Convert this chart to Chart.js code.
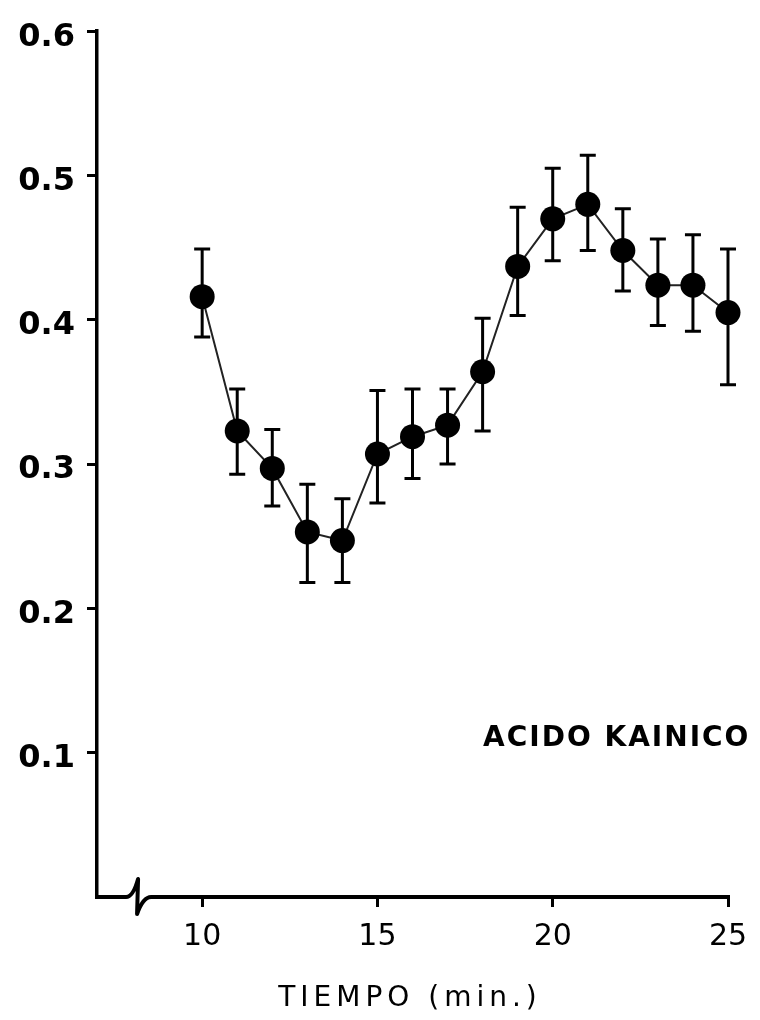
<!DOCTYPE html>
<html>
<head>
<meta charset="utf-8">
<script src="https://cdn.jsdelivr.net/npm/chart.js@4/dist/chart.umd.min.js"></script>
<style>
  body { margin: 0; background: #fff; }
  #wrap { width: 760px; height: 1020px; }
</style>
</head>
<body>
<div id="wrap"><canvas id="kainico"></canvas></div>
<script>
// data
const tiempo = [10, 11, 12, 13, 14, 15, 16, 17, 18, 19, 20, 21, 22, 23, 24, 25];
const media = [0.416, 0.323, 0.297, 0.253, 0.247, 0.307, 0.319, 0.327, 0.364, 0.437, 0.470, 0.480, 0.448, 0.424, 0.424, 0.405];
const errSup = [0.449, 0.352, 0.324, 0.286, 0.276, 0.351, 0.352, 0.352, 0.401, 0.478, 0.505, 0.514, 0.477, 0.456, 0.459, 0.449];
const errInf = [0.388, 0.293, 0.271, 0.218, 0.218, 0.273, 0.290, 0.300, 0.323, 0.403, 0.441, 0.448, 0.420, 0.396, 0.392, 0.355];

const xTicks = [10, 15, 20, 25];
const yTicks = [0.1, 0.2, 0.3, 0.4, 0.5, 0.6];
const xBreak = 8.2;

const etiqueta = 'ACIDO KAINICO';
const tituloX = 'TIEMPO (min.)';

// error bars, broken x axis and the text labels
const extras = {
    id: 'extras',
    beforeDatasetsDraw(chart) {
        const { ctx, scales: { x, y } } = chart;
        ctx.save();
        ctx.strokeStyle = '#000';
        ctx.lineWidth = 3;
        tiempo.forEach((t, i) => {
            const px = x.getPixelForValue(t);
            const top = y.getPixelForValue(errSup[i]);
            const bot = y.getPixelForValue(errInf[i]);
            ctx.beginPath();
            ctx.moveTo(px, top); ctx.lineTo(px, bot);
            ctx.moveTo(px - 8, top); ctx.lineTo(px + 8, top);
            ctx.moveTo(px - 8, bot); ctx.lineTo(px + 8, bot);
            ctx.stroke();
        });
        ctx.restore();
    },
    afterDraw(chart) {
        const { ctx, chartArea, scales: { x } } = chart;
        const y0 = chartArea.bottom;
        const bx = x.getPixelForValue(xBreak);
        ctx.save();
        ctx.strokeStyle = '#000';
        ctx.lineWidth = 4;
        ctx.lineJoin = 'round';
        ctx.beginPath();
        ctx.moveTo(chartArea.left - 2, y0);
        ctx.lineTo(bx - 13, y0);
        ctx.quadraticCurveTo(bx - 6, y0, bx - 1, y0 - 18);
        ctx.lineTo(bx - 2, y0 + 17);
        ctx.quadraticCurveTo(bx + 4, y0, bx + 12, y0);
        ctx.lineTo(chartArea.right + 2, y0);
        ctx.stroke();

        ctx.fillStyle = '#000';
        ctx.textBaseline = 'alphabetic';
        ctx.font = 'bold 28px "DejaVu Sans"';
        ctx.letterSpacing = '2px';
        ctx.textAlign = 'left';
        ctx.fillText(etiqueta, 483, 746);

        ctx.font = '28px "DejaVu Sans"';
        ctx.letterSpacing = '5px';
        ctx.textAlign = 'center';
        ctx.fillText(tituloX, 410, 1006);
        ctx.restore();
    }
};

const ctx = document.getElementById('kainico').getContext('2d');

const chart = new Chart(ctx, {
    type: 'line',
    data: {
        datasets: [{
            data: tiempo.map((t, i) => ({ x: t, y: media[i] })),
            borderColor: '#222',
            borderWidth: 2,
            pointRadius: 12.5,
            pointBackgroundColor: '#000',
            pointBorderWidth: 0,
            tension: 0,
            clip: false
        }]
    },
    options: {
        responsive: true,
        maintainAspectRatio: false,
        animation: false,
        layout: { padding: { top: 21, right: 32, bottom: 0, left: 0 } },
        plugins: { legend: { display: false }, tooltip: { enabled: false } },
        scales: {
            x: {
                type: 'linear',
                min: 7,
                max: 25,
                afterBuildTicks: s => { s.ticks = xTicks.map(v => ({ value: v })); },
                afterFit: s => { s.height = 123; },
                border: { display: false },
                grid: { drawOnChartArea: false, drawTicks: true, tickLength: 10, lineWidth: 3, color: '#000' },
                ticks: {
                    color: '#000',
                    padding: 12,
                    maxRotation: 0,
                    font: { family: 'DejaVu Sans', size: 30 }
                }
            },
            y: {
                min: 0,
                max: 0.6,
                afterBuildTicks: s => { s.ticks = yTicks.map(v => ({ value: v })); },
                afterFit: s => { s.width = 97; },
                border: { display: true, width: 3.5, color: '#000' },
                grid: { drawOnChartArea: false, drawTicks: true, tickLength: 10, lineWidth: 3, color: '#000' },
                ticks: {
                    color: '#000',
                    padding: 12,
                    labelOffset: 6,
                    font: { family: 'DejaVu Sans', size: 32, weight: 'bold' },
                    callback: v => v.toFixed(1)
                }
            }
        }
    },
    plugins: [extras]
});
chart.update();
</script>
</body>
</html>
